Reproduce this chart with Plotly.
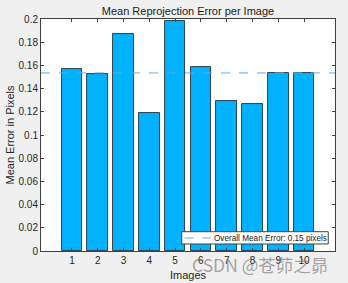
import plotly.graph_objects as go

images = [1, 2, 3, 4, 5, 6, 7, 8, 9, 10]
mean_errors = [0.1566, 0.1522, 0.1870, 0.1190, 0.1983, 0.1586, 0.1293, 0.1267, 0.1537, 0.1537]
y_ticks = [0, 0.02, 0.04, 0.06, 0.08, 0.1, 0.12, 0.14, 0.16, 0.18, 0.2]
y_tick_labels = ["0", "0.02", "0.04", "0.06", "0.08", "0.1", "0.12", "0.14", "0.16", "0.18", "0.2"]
overall_mean = sum(mean_errors) / len(mean_errors)
legend_label = "Overall Mean Error: %.2f pixels" % overall_mean

FONT = "Liberation Sans, Arial, Helvetica, sans-serif"
AX = "#404040"
LINE_C = "#6aa8dc"

fig = go.Figure()
fig.add_trace(go.Bar(
    x=images, y=mean_errors, width=0.8,
    marker=dict(color="#00b2ff", line=dict(color="rgba(20,20,20,0.85)", width=0.9)),
    showlegend=False,
))
fig.add_shape(type="line", xref="paper", x0=0, x1=1, yref="y",
              y0=overall_mean, y1=overall_mean,
              line=dict(color=LINE_C, dash="dash", width=1))

# legend box (drawn manually to match the compact MATLAB legend)
fig.add_shape(type="rect", xref="paper", yref="paper",
              x0=0.4786, x1=0.977, y0=0.0302, y1=0.0832,
              fillcolor="white", line=dict(color=AX, width=1), layer="above")
fig.add_shape(type="line", xref="paper", yref="paper",
              x0=0.488, x1=0.578, y0=0.056, y1=0.056,
              line=dict(color=LINE_C, dash="dash", width=1), layer="above")
fig.add_annotation(text=legend_label, xref="paper", yref="paper",
                   x=0.582, y=0.056, xanchor="left", yanchor="middle",
                   showarrow=False, font=dict(size=8.2, color="#1a1a1a"))

fig.update_layout(
    width=348, height=283,
    margin=dict(l=41, r=13, t=19, b=32),
    paper_bgcolor="#f0f0f0", plot_bgcolor="white",
    font=dict(family=FONT, size=10, color="#262626"),
    showlegend=False,
    title=dict(text="Mean Reprojection Error per Image", x=0.5, xref="paper",
               y=1 - 11.5 / 283, yref="container", yanchor="middle", xanchor="center",
               font=dict(size=11, color="#1a1a1a")),
    xaxis=dict(range=[-0.2, 11.2], tickmode="array", tickvals=images,
               ticks="inside", ticklen=3, tickcolor=AX, showline=True, linecolor=AX,
               linewidth=1, mirror="ticks", showgrid=False, zeroline=False,
               automargin=False,
               title=dict(text="Images", font=dict(size=11), standoff=6),
               tickfont=dict(size=10)),
    yaxis=dict(range=[0, 0.2], tickmode="array", tickvals=y_ticks, ticktext=y_tick_labels,
               ticks="inside", ticklen=3, tickcolor=AX, showline=True, linecolor=AX,
               linewidth=1, mirror="ticks", showgrid=False, zeroline=False,
               automargin=False,
               title=dict(text="Mean Error in Pixels", font=dict(size=11), standoff=1),
               tickfont=dict(size=10)),
    bargap=0,
)
fig.add_annotation(text="CSDN @苍茆之昴", xref="paper", yref="paper",
                   x=0.745, y=-0.06, xanchor="center", yanchor="middle",
                   showarrow=False,
                   font=dict(family="Noto Sans CJK SC, DejaVu Sans, sans-serif",
                             size=17.5, color="rgba(110,110,110,0.6)"))

fig.write_html("out.html")
